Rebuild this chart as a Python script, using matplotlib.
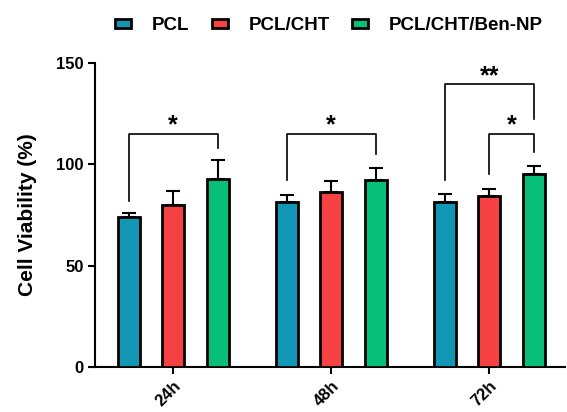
import numpy as np
import matplotlib.pyplot as plt

plt.rcParams['font.family'] = ['Liberation Sans', 'DejaVu Sans']
plt.rcParams['font.weight'] = 'bold'

times = ['24h', '48h', '72h']
groups = ['PCL', 'PCL/CHT', 'PCL/CHT/Ben-NP']
colors = ['#1197b4', '#f54141', '#07bf78']
means = [[74, 81.5, 81.5],
         [80, 86.5, 84.5],
         [92.5, 92, 95]]
errs = [[2, 3.5, 4],
        [7, 5, 3.5],
        [9.5, 6, 4]]

# significance brackets: (time idx, group a, group b, bar y, left leg end, right leg end, label)
sig = [(0, 0, 2, 115, 82, 108, '*'),
       (1, 0, 2, 115, 92, 105, '*'),
       (2, 0, 2, 139.5, 92, 122, '**'),
       (2, 1, 2, 115, 95, 106, '*')]

fig = plt.figure(figsize=(5.67, 4.12), dpi=100)
ax = fig.add_axes([0.167, 0.1085, 0.83, 0.7395])

x = np.arange(len(times))
step = 0.2816
w = 0.139
for i, g in enumerate(groups):
    pos = x + (i - 1) * step
    ax.bar(pos, means[i], w, color=colors[i], edgecolor='black', linewidth=2,
           label=g, zorder=3)
    ax.errorbar(pos, means[i], yerr=[np.zeros(3), errs[i]], fmt='none',
                ecolor='black', elinewidth=1.5, capsize=5, capthick=1.5, zorder=2)

for t, a, b, yb, ya, yc, lab in sig:
    xa = x[t] + (a - 1) * step
    xb = x[t] + (b - 1) * step
    ax.plot([xa, xa, xb, xb], [ya, yb, yb, yc], color='black', lw=1.2)
    ax.text((xa + xb) / 2, yb + 0.5, lab, ha='center', va='baseline',
            fontsize=18, fontweight='bold')

ax.set_xlim(-0.496, 2.48)
ax.set_ylim(0, 150)
ax.set_yticks([0, 50, 100, 150])
ax.set_xticks(x)
ax.set_xticklabels(times, rotation=45, ha='right', rotation_mode='anchor',
                   fontsize=12, fontweight='bold')
ax.tick_params(axis='y', labelsize=12, width=1.5, length=5, pad=3)
ax.tick_params(axis='x', width=1.5, length=5, pad=3)
for lbl in ax.get_yticklabels():
    lbl.set_fontweight('bold')
ax.set_ylabel('Cell Viability (%)', fontsize=15, fontweight='bold', labelpad=14)
ax.spines['top'].set_visible(False)
ax.spines['right'].set_visible(False)
ax.spines['left'].set_linewidth(1.5)
ax.spines['bottom'].set_linewidth(1.5)

fig.legend(loc='upper center', bbox_to_anchor=(0.58, 1.0), ncol=3, frameon=False,
           prop={'size': 13.5, 'weight': 'bold'}, handlelength=0.85, handleheight=0.37,
           columnspacing=1.2, handletextpad=1.1)

fig.savefig('out.png', dpi=100)
